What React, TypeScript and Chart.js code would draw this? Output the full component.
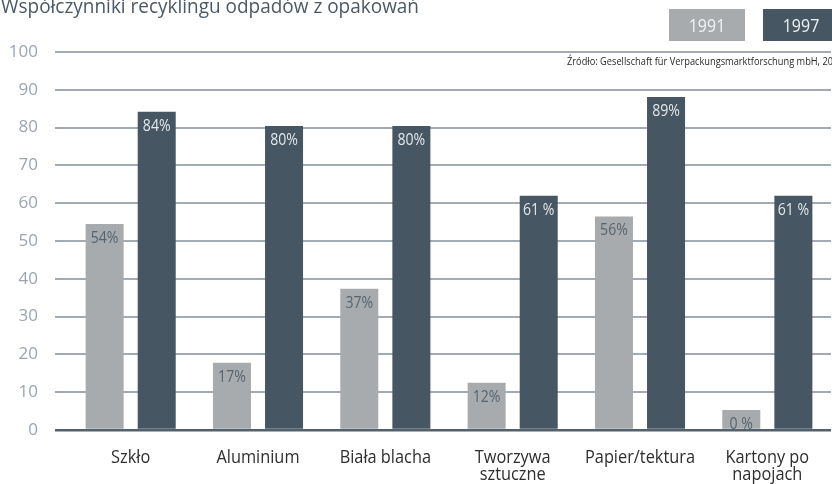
import React, { useEffect, useRef } from "react";
import { Chart, registerables } from "chart.js";

Chart.register(...registerables);

const title = "Współczynniki recyklingu odpadów z opakowań";
const sourceNote = "Źródło: Gesellschaft für Verpackungsmarktforschung mbH, 20";
const categories: (string | string[])[] = [
  "Szkło",
  "Aluminium",
  "Biała blacha",
  ["Tworzywa", "sztuczne"],
  "Papier/tektura",
  ["Kartony po", "napojach"],
];
const seriesNames = ["1991", "1997"];
const values1991 = [54.5, 17.8, 37.4, 12.5, 56.5, 5.3];
const values1997 = [84.2, 80.4, 80.4, 62, 88.1, 62];
const labels1991 = ["54%", "17%", "37%", "12%", "56%", "0 %"];
const labels1997 = ["84%", "80%", "80%", "61 %", "89%", "61 %"];
const yTicks = [0, 10, 20, 30, 40, 50, 60, 70, 80, 90, 100];

const LIGHT = "#a7abae";
const DARK = "#465763";
const FONT = '"Open Sans", "Noto Sans", sans-serif';

function drawCondensed(
  ctx: CanvasRenderingContext2D,
  text: string,
  x: number,
  y: number,
  sx: number,
  align: CanvasTextAlign
) {
  ctx.save();
  ctx.translate(x, y);
  ctx.scale(sx, 1);
  ctx.textAlign = align;
  ctx.textBaseline = "alphabetic";
  ctx.fillText(text, 0, 0);
  ctx.restore();
}

function drawFit(
  ctx: CanvasRenderingContext2D,
  text: string,
  x: number,
  y: number,
  width: number
) {
  const w = ctx.measureText(text).width;
  drawCondensed(ctx, text, x, y, width / w, "left");
}

const decorPlugin = {
  id: "decor",
  afterDatasetsDraw(chart: any) {
    const ctx: CanvasRenderingContext2D = chart.ctx;
    const sets = [
      { labels: labels1991, color: "#56646f" },
      { labels: labels1997, color: "#e4e8eb" },
    ];
    sets.forEach((s, di) => {
      const meta = chart.getDatasetMeta(di);
      meta.data.forEach((bar: any, i: number) => {
        ctx.save();
        ctx.fillStyle = s.color;
        ctx.font = `16px ${FONT}`;
        drawCondensed(ctx, s.labels[i], bar.x, bar.y + 19, 0.88, "center");
        ctx.restore();
      });
    });
  },
  afterDraw(chart: any) {
    const ctx: CanvasRenderingContext2D = chart.ctx;
    // title
    ctx.save();
    ctx.fillStyle = "#4b5966";
    ctx.font = `20px ${FONT}`;
    drawFit(ctx, title, 1, 13, 418);
    ctx.restore();

    // legend boxes
    const boxes = [
      { x: 669, w: 76, fill: LIGHT, text: seriesNames[0], color: "#f3f3f3" },
      { x: 763, w: 76, fill: DARK, text: seriesNames[1], color: "#eef1f3" },
    ];
    boxes.forEach((b) => {
      ctx.save();
      ctx.fillStyle = b.fill;
      ctx.fillRect(b.x, 9, b.w, 32);
      ctx.fillStyle = b.color;
      ctx.font = `19px ${FONT}`;
      drawCondensed(ctx, b.text, b.x + b.w / 2, 32, 0.84, "center");
      ctx.restore();
    });

    // source
    ctx.save();
    ctx.fillStyle = "#2a2a2a";
    ctx.font = `10px ${FONT}`;
    drawFit(ctx, sourceNote, 567, 65, 266);
    ctx.restore();

    // x category labels
    const xs = chart.scales.x;
    ctx.save();
    ctx.fillStyle = "#2e2e2e";
    ctx.font = `19px ${FONT}`;
    categories.forEach((c, i) => {
      const px = xs.getPixelForValue(i);
      const lines = Array.isArray(c) ? c : [c];
      lines.forEach((ln, li) => {
        drawCondensed(ctx, ln, px, 463 + li * 17, 0.86, "center");
      });
    });
    ctx.restore();
  },
};

export default function App() {
  const ref = useRef<HTMLCanvasElement | null>(null);
  useEffect(() => {
    if (!ref.current) return;
    const chart = new Chart(ref.current, {
      type: "bar",
      data: {
        labels: categories as any,
        datasets: [
          {
            label: seriesNames[0],
            data: values1991,
            backgroundColor: LIGHT,
            categoryPercentage: 0.818,
            barPercentage: 0.73,
          },
          {
            label: seriesNames[1],
            data: values1997,
            backgroundColor: DARK,
            categoryPercentage: 0.818,
            barPercentage: 0.73,
          },
        ],
      },
      options: {
        responsive: false,
        animation: false,
        layout: { padding: { top: 52, right: 1, left: 0, bottom: 0 } },
        plugins: {
          legend: { display: false },
          tooltip: { enabled: false },
          title: { display: false },
        },
        scales: {
          x: {
            grid: { display: false, drawTicks: false },
            border: { display: false },
            ticks: { display: false },
            afterFit(scale: any) {
              scale.height = 54;
            },
          },
          y: {
            min: 0,
            max: 100,
            afterBuildTicks(scale: any) {
              scale.ticks = yTicks.map((v) => ({ value: v }));
            },
            border: { display: false },
            grid: {
              drawTicks: true,
              tickLength: 12,
              color: (c: any) => (c.tick && c.tick.value === 0 ? "#53616c" : "#a2aab3"),
              lineWidth: (c: any) => (c.tick && c.tick.value === 0 ? 2.5 : 2),
            },
            ticks: {
              color: "#9ba5b0",
              padding: 17,
              font: { family: FONT, size: 17 },
            },
            afterFit(scale: any) {
              scale.width = 67;
            },
          },
        },
      },
      plugins: [decorPlugin],
    });
    return () => chart.destroy();
  }, []);
  return (
    <div style={{ position: "fixed", left: 0, top: 0, width: 832, height: 484, background: "#fff" }}>
      <canvas ref={ref} width={832} height={484} style={{ display: "block" }} />
    </div>
  );
}
